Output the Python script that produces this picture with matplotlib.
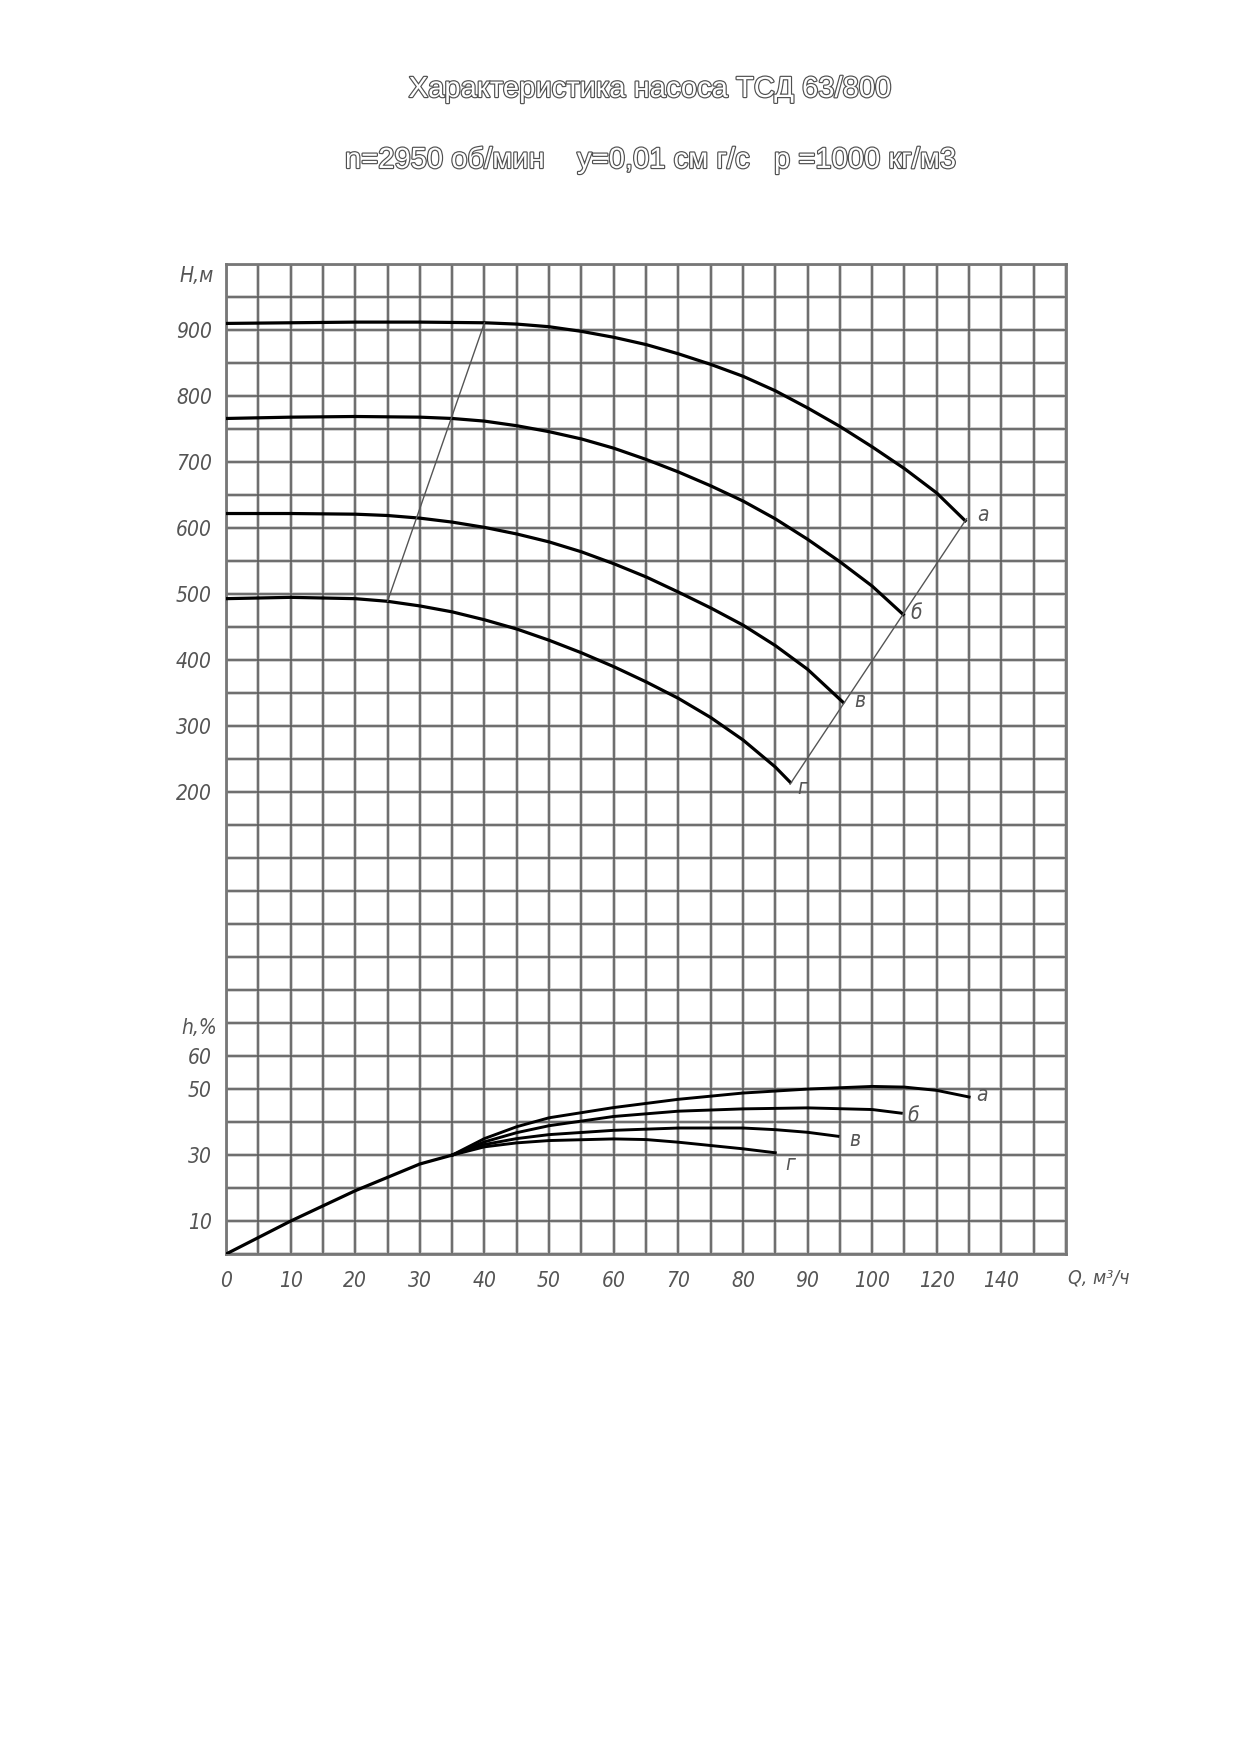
import numpy as np
import matplotlib.pyplot as plt
import matplotlib.patheffects as pe

# --- data ---
# head curves H(Q), Q in m3/h, H in m
q_a = [0, 10, 20, 30, 40, 45, 50, 55, 60, 65, 70, 75, 80, 85, 90, 95, 100, 105, 110, 114.4]
h_a = [910, 911, 912, 912, 911, 909, 905, 898, 889, 878, 864, 848, 830, 808, 782, 754, 723, 690, 653, 611]

q_b = [0, 10, 20, 30, 35, 40, 45, 50, 55, 60, 65, 70, 75, 80, 85, 90, 95, 100, 104.8]
h_b = [766, 768, 769, 768, 766, 762, 755, 746, 735, 721, 704, 685, 664, 641, 614, 583, 549, 512, 469]

q_v = [0, 10, 20, 25, 30, 35, 40, 45, 50, 55, 60, 65, 70, 75, 80, 85, 90, 95.5]
h_v = [622, 622, 621, 619, 615, 609, 601, 591, 579, 564, 546, 526, 503, 479, 453, 422, 386, 336]

q_g = [0, 10, 20, 25, 30, 35, 40, 45, 50, 55, 60, 65, 70, 75, 80, 85, 87.3]
h_g = [493, 495, 493, 489, 482, 473, 461, 447, 430, 411, 390, 367, 342, 313, 279, 238, 215]

# construction lines
q_line1 = [25, 40]
h_line1 = [489, 911]
q_line2 = [87.3, 114.6]
h_line2 = [212, 614]

# efficiency curves, %
q_eta0 = [0, 10, 20, 30, 35]
eta0 = [0, 10, 19.2, 27.3, 30]

q_eta_a = [35, 40, 45, 50, 60, 70, 80, 90, 100, 105, 110, 115]
eta_a = [30, 35.0, 38.6, 41.3, 44.4, 46.9, 48.8, 50.0, 50.8, 50.6, 49.6, 47.6]
q_eta_b = [35, 40, 45, 50, 60, 70, 80, 90, 100, 104.5]
eta_b = [30, 34.0, 36.8, 38.9, 41.7, 43.3, 44.0, 44.3, 43.8, 42.7]
q_eta_v = [35, 40, 45, 50, 60, 70, 80, 85, 90, 94.7]
eta_v = [30, 33.2, 35.0, 36.2, 37.5, 38.2, 38.2, 37.7, 36.9, 35.7]
q_eta_g = [35, 40, 45, 50, 60, 65, 70, 75, 80, 85]
eta_g = [30, 32.5, 33.7, 34.4, 34.9, 34.7, 33.9, 32.9, 31.9, 30.7]

# tick labels as printed on the sheet
q_tick_pos = [0, 10, 20, 30, 40, 50, 60, 70, 80, 90, 100, 110, 120]
q_tick_labels = ['0', '10', '20', '30', '40', '50', '60', '70', '80', '90', '100', '120', '140']
h_ticks = [200, 300, 400, 500, 600, 700, 800, 900]
eta_ticks = [10, 30, 50, 60]

curve_names = ['а', 'б', 'в', 'г']
h_label_pos = [(116.2, 620), (105.9, 472), (97.2, 338), (88.4, 206)]
eta_label_pos = [(116.1, 48.3), (105.5, 41.7), (96.5, 34.7), (86.5, 27.4)]

fig = plt.figure(figsize=(12.39, 17.52), dpi=100)
ax = fig.add_axes([0.1824, 0.2842, 0.678, 0.5651])
ax.set_xlim(0, 130)
ax.set_ylim(-500, 1000)

# millimetre-paper style grid
for q in np.arange(0, 131, 5):
    ax.axvline(q, color='#c6c6c6', lw=2.6, zorder=0)
    ax.axvline(q, color='#5e5e5e', lw=1.2, zorder=1)
for h in np.arange(-500, 1001, 50):
    ax.axhline(h, color='#c6c6c6', lw=2.6, zorder=0)
    ax.axhline(h, color='#5e5e5e', lw=1.2, zorder=1)
for s in ax.spines.values():
    s.set_color('#777777')
    s.set_linewidth(2)

tick_font = dict(fontsize=15, fontstyle='italic', color='#555555',
                 family='DejaVu Sans', fontstretch='condensed')

ax.set_xticks(q_tick_pos, q_tick_labels, **tick_font)
ax.set_yticks(h_ticks, [str(v) for v in h_ticks], **tick_font)
ax.tick_params(axis='both', length=0)
ax.tick_params(axis='x', pad=12)
ax.tick_params(axis='y', pad=10)

for q, h in [(q_a, h_a), (q_b, h_b), (q_v, h_v), (q_g, h_g)]:
    ax.plot(q, h, color='black', lw=2.3, solid_joinstyle='round', zorder=3)
ax.plot(q_line1, h_line1, color='#555555', lw=1.0, zorder=3)
ax.plot(q_line2, h_line2, color='#555555', lw=1.0, zorder=3)

for name, (x, y) in zip(curve_names, h_label_pos):
    ax.text(x, y, name, ha='left', va='center', zorder=4, **tick_font)

ax.text(-4.5, 982, 'Н,м', ha='center', va='center', clip_on=False, **tick_font)

# efficiency scale shares the grid
ax2 = ax.twinx()
ax2.set_ylim(0, 300)
ax2.plot(q_eta0, eta0, color='black', lw=2.3, solid_joinstyle='round', zorder=3)
for q, e in [(q_eta_a, eta_a), (q_eta_b, eta_b), (q_eta_v, eta_v), (q_eta_g, eta_g)]:
    ax2.plot(q, e, color='black', lw=2.1, solid_joinstyle='round', zorder=3)
for name, (x, y) in zip(curve_names, eta_label_pos):
    ax2.text(x, y, name, ha='left', va='center', zorder=4, **tick_font)
ax2.set_yticks(eta_ticks, [str(v) for v in eta_ticks], **tick_font)
ax2.yaxis.set_ticks_position('left')
ax2.tick_params(axis='y', length=0, pad=10, left=True, right=False,
                labelleft=True, labelright=False)
for s in ax2.spines.values():
    s.set_visible(False)
ax2.text(-4.2, 68.5, 'h,%', ha='center', va='center', clip_on=False, **tick_font)

ax.text(130.3, -536, 'Q, м³/ч', ha='left', va='center', clip_on=False,
        **{**tick_font, 'fontsize': 14})

# outlined title lines
outline = [pe.withStroke(linewidth=1.7, foreground='#505050')]
fig.text(0.5246, 0.9492, 'Характеристика насоса ТСД 63/800', ha='center', va='center',
         fontsize=21, family='Liberation Sans', color='white', path_effects=outline)
fig.text(0.5246, 0.9087, 'n=2950 об/мин    y=0,01 см г/с   p =1000 кг/м3', ha='center',
         va='center', fontsize=21, family='Liberation Sans', color='white',
         path_effects=outline)

fig.savefig('out.png', dpi=100, facecolor='white')
